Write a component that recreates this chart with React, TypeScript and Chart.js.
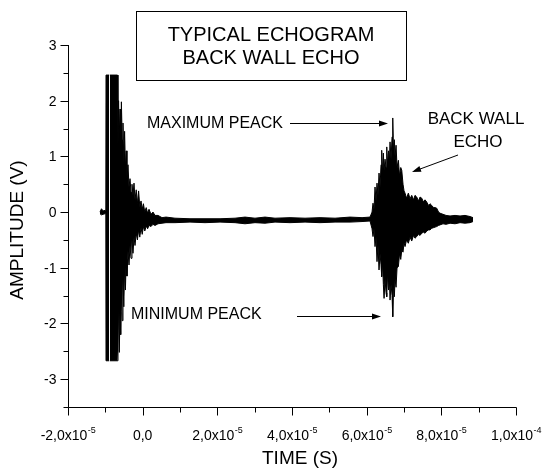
import React, { useEffect, useRef } from 'react';
import { Chart, registerables } from 'chart.js';

Chart.register(...registerables);

// Sample times (s) of the read envelope points (null marks a break in the trace)
const TIME_S = [
  -1.143e-5, -1.103e-5, -1.062e-5, -1.009e-5, -0.987e-5,
  -0.982e-5, -0.896e-5, -0.886e-5, -0.875e-5, -0.674e-5,
  -0.661e-5, -0.645e-5, -0.626e-5, -0.607e-5, -0.588e-5, -0.570e-5, -0.548e-5, -0.527e-5,
  -0.505e-5, -0.484e-5, -0.462e-5, -0.441e-5, -0.420e-5, -0.393e-5, -0.366e-5, -0.339e-5,
  -0.312e-5, -0.286e-5, -0.259e-5, -0.232e-5, -0.205e-5, -0.173e-5, -0.141e-5, -0.109e-5,
  -0.077e-5, -0.044e-5, -0.012e-5, 0.020e-5, 0.057e-5, 0.095e-5, 0.132e-5, 0.170e-5,
  0.223e-5, 0.277e-5, 0.331e-5, 0.411e-5, 0.518e-5, 0.625e-5,
  0.866e-5, 1.268e-5, 1.670e-5, 2.072e-5, 2.474e-5, 2.741e-5, 3.009e-5, 3.277e-5,
  3.545e-5, 3.947e-5, 4.349e-5, 4.751e-5, 5.153e-5, 5.554e-5, 5.876e-5, 6.090e-5,
  6.144e-5, 6.170e-5, 6.197e-5, 6.224e-5, 6.251e-5, 6.277e-5, 6.304e-5, 6.331e-5,
  6.358e-5, 6.385e-5, 6.403e-5, 6.425e-5, 6.447e-5, 6.466e-5, 6.492e-5, 6.519e-5,
  6.538e-5, 6.559e-5, 6.586e-5, 6.608e-5, 6.626e-5, 6.653e-5, 6.680e-5, 6.699e-5,
  6.720e-5, 6.742e-5, 6.760e-5, 6.787e-5, 6.814e-5, 6.849e-5, 6.881e-5, 6.913e-5,
  6.940e-5, 6.974e-5, 7.001e-5, 7.028e-5, 7.068e-5, 7.116e-5, 7.162e-5, 7.207e-5,
  7.255e-5, 7.295e-5, 7.341e-5, 7.389e-5, 7.429e-5, 7.475e-5, 7.523e-5, 7.563e-5,
  7.609e-5, 7.657e-5, 7.697e-5, 7.743e-5, 7.791e-5, 7.831e-5, 7.876e-5, 7.925e-5,
  7.965e-5, 8.045e-5, 8.126e-5, 8.233e-5, 8.367e-5, 8.501e-5, 8.635e-5, 8.769e-5, 8.849e-5,
];

// Upper extremes of the amplitude (V)
const UPPER_V = [
  0.0, 0.06, 0.02, 0.03, 0.03,
  2.46, 2.46, null, 2.46, 2.46,
  1.2, 2.0, 1.4, 1.85, 1.1, 1.98, 1.3, 1.6,
  0.9, 1.45, 0.8, 1.1, 0.6, 0.85, 0.45, 0.6,
  0.35, 0.5, 0.3, 0.52, 0.22, 0.4, 0.15, 0.38,
  0.1, 0.2, 0.05, 0.15, 0.0, 0.08, -0.02, 0.05,
  -0.04, 0.0, -0.06, -0.06, -0.1, -0.09,
  -0.11, -0.12, -0.12, -0.12, -0.11, -0.09, -0.11, -0.09,
  -0.11, -0.1, -0.11, -0.1, -0.11, -0.09, -0.1, -0.09,
  0.0, 0.16, 0.05, 0.45, 0.2, 0.52, 0.3, 0.7,
  0.45, 0.85, 1.11, 0.7, 1.06, 0.75, 0.95, 0.8,
  1.17, 0.85, 1.1, 0.9, 1.26, 0.95, 1.35, 1.69,
  1.1, 1.3, 1.0, 1.2, 0.8, 0.93, 0.65, 0.8,
  0.75, 0.5, 0.38, 0.34, 0.25, 0.34, 0.24, 0.3,
  0.22, 0.3, 0.27, 0.2, 0.27, 0.25, 0.18, 0.22,
  0.18, 0.12, 0.15, 0.12, 0.08, 0.08, 0.07, 0.0,
  -0.02, -0.04, -0.06, -0.07, -0.06, -0.07, -0.06, -0.08, -0.1,
];

// Lower extremes of the amplitude (V)
const LOWER_V = [
  -0.03, -0.05, -0.04, -0.03, -0.03,
  -2.67, -2.67, null, -2.67, -2.67,
  -2.5, -1.6, -2.52, -1.8, -2.2, -1.5, -1.95, -1.2,
  -1.7, -1.0, -1.4, -0.85, -1.15, -0.7, -0.95, -0.6,
  -0.83, -0.5, -0.74, -0.45, -0.6, -0.38, -0.5, -0.32,
  -0.45, -0.28, -0.4, -0.26, -0.34, -0.25, -0.3, -0.24,
  -0.26, -0.22, -0.24, -0.21, -0.2, -0.19,
  -0.19, -0.18, -0.19, -0.18, -0.19, -0.21, -0.19, -0.2,
  -0.18, -0.19, -0.18, -0.19, -0.18, -0.18, -0.17, -0.16,
  -0.3, -0.44, -0.3, -0.62, -0.45, -0.89, -0.6, -1.04,
  -0.75, -0.95, -1.16, -0.9, -1.3, -1.55, -1.2, -1.45,
  -1.52, -1.1, -1.4, -1.2, -1.58, -1.3, -1.5, -1.88,
  -1.3, -1.52, -1.2, -1.35, -1.0, -0.98, -0.75, -0.85,
  -0.68, -0.72, -0.55, -0.62, -0.5, -0.56, -0.45, -0.52,
  -0.42, -0.47, -0.44, -0.4, -0.42, -0.38, -0.36, -0.38,
  -0.34, -0.32, -0.32, -0.29, -0.28, -0.27, -0.26, -0.24,
  -0.23, -0.21, -0.22, -0.2, -0.21, -0.19, -0.2, -0.19, -0.17,
];

const X_TICKS = [-2e-5, 0, 2e-5, 4e-5, 6e-5, 8e-5, 1e-4];
const X_TICK_MANTISSA = ['-2,0x10', '0,0', '2,0x10', '4,0x10', '6,0x10', '8,0x10', '1,0x10'];
const X_TICK_EXP = ['-5', '', '-5', '-5', '-5', '-5', '-4'];
const X_MINOR = [-1e-5, 1e-5, 3e-5, 5e-5, 7e-5, 9e-5];
const Y_TICKS = [3, 2, 1, 0, -1, -2, -3];
const Y_MINOR = [2.5, 1.5, 0.5, -0.5, -1.5, -2.5, -3.5];

const X_TITLE = 'TIME (S)';
const Y_TITLE = 'AMPLITUDE (V)';
const TITLE_LINES = ['TYPICAL ECHOGRAM', 'BACK WALL ECHO'];
const MAX_LABEL = 'MAXIMUM PEACK';
const MIN_LABEL = 'MINIMUM PEACK';
const ECHO_LABEL = ['BACK WALL', 'ECHO'];

const FONT = '"Liberation Sans", Arial, sans-serif';

function arrow(ctx: CanvasRenderingContext2D, x1: number, y1: number, x2: number, y2: number) {
  const ang = Math.atan2(y2 - y1, x2 - x1);
  const len = 9;
  const hw = 3;
  ctx.beginPath();
  ctx.moveTo(x1, y1);
  ctx.lineTo(x2 - Math.cos(ang) * len * 0.8, y2 - Math.sin(ang) * len * 0.8);
  ctx.stroke();
  ctx.beginPath();
  ctx.moveTo(x2, y2);
  ctx.lineTo(x2 - Math.cos(ang) * len - Math.sin(ang) * hw, y2 - Math.sin(ang) * len + Math.cos(ang) * hw);
  ctx.lineTo(x2 - Math.cos(ang) * len + Math.sin(ang) * hw, y2 - Math.sin(ang) * len - Math.cos(ang) * hw);
  ctx.closePath();
  ctx.fill();
}

const decorPlugin = {
  id: 'decor',
  afterDraw(chart: any) {
    const ctx: CanvasRenderingContext2D = chart.ctx;
    const xs = chart.scales.x;
    const ys = chart.scales.y;
    const a = chart.chartArea;
    ctx.save();
    ctx.strokeStyle = '#000';
    ctx.fillStyle = '#000';
    ctx.lineWidth = 1;
    const L = Math.round(a.left) + 0.5;
    const B = Math.round(a.bottom) + 0.5;
    ctx.beginPath();
    ctx.moveTo(L, Math.round(a.top));
    ctx.lineTo(L, B);
    ctx.lineTo(Math.round(a.right) + 0.5, B);
    ctx.stroke();
    ctx.beginPath();
    Y_TICKS.forEach((v) => {
      const y = Math.round(ys.getPixelForValue(v)) + 0.5;
      ctx.moveTo(L - 8, y);
      ctx.lineTo(L, y);
    });
    Y_MINOR.forEach((v) => {
      const y = Math.round(ys.getPixelForValue(v)) + 0.5;
      ctx.moveTo(L - 5, y);
      ctx.lineTo(L, y);
    });
    X_TICKS.forEach((v) => {
      const x = Math.round(xs.getPixelForValue(v)) + 0.5;
      ctx.moveTo(x, B);
      ctx.lineTo(x, B + 8);
    });
    X_MINOR.forEach((v) => {
      const x = Math.round(xs.getPixelForValue(v)) + 0.5;
      ctx.moveTo(x, B);
      ctx.lineTo(x, B + 5);
    });
    ctx.stroke();

    ctx.font = `14px ${FONT}`;
    ctx.textAlign = 'right';
    ctx.textBaseline = 'middle';
    Y_TICKS.forEach((v) => {
      ctx.fillText(String(v), L - 12, ys.getPixelForValue(v) + 1);
    });
    X_TICKS.forEach((v, i) => {
      const x = xs.getPixelForValue(v);
      ctx.font = `14px ${FONT}`;
      const mw = ctx.measureText(X_TICK_MANTISSA[i]).width;
      ctx.font = `9px ${FONT}`;
      const ew = X_TICK_EXP[i] ? ctx.measureText(X_TICK_EXP[i]).width : 0;
      const start = x - (mw + ew) / 2;
      ctx.textAlign = 'left';
      ctx.textBaseline = 'alphabetic';
      ctx.font = `14px ${FONT}`;
      ctx.fillText(X_TICK_MANTISSA[i], start, 440);
      if (X_TICK_EXP[i]) {
        ctx.font = `9px ${FONT}`;
        ctx.fillText(X_TICK_EXP[i], start + mw + 0.5, 433);
      }
    });

    ctx.font = `19px ${FONT}`;
    ctx.textAlign = 'center';
    ctx.textBaseline = 'middle';
    ctx.fillText(X_TITLE, (a.left + a.right) / 2 + 8, 459);
    ctx.save();
    ctx.translate(18, (a.top + a.bottom) / 2 + 4);
    ctx.rotate(-Math.PI / 2);
    ctx.fillText(Y_TITLE, 0, 0);
    ctx.restore();

    ctx.strokeRect(136.5, 11.5, 270, 69);
    ctx.font = `20px ${FONT}`;
    ctx.fillText(TITLE_LINES[0], 271, 35);
    ctx.fillText(TITLE_LINES[1], 271, 58);

    ctx.font = `16px ${FONT}`;
    ctx.textAlign = 'left';
    ctx.fillText(MAX_LABEL, 147, 124);
    ctx.fillText(MIN_LABEL, 131, 315);
    ctx.font = `17px ${FONT}`;
    ctx.textAlign = 'center';
    ctx.fillText(ECHO_LABEL[0], 476, 119);
    ctx.fillText(ECHO_LABEL[1], 478, 142);
    ctx.lineWidth = 1;
    arrow(ctx, 290, 123.5, 388, 123.5);
    arrow(ctx, 297, 316.5, 381, 316.5);
    arrow(ctx, 458, 155, 412, 172);
    ctx.restore();
  },
};

// split the read trace into continuous pieces at the null breaks
function pieces() {
  const out: { up: any[]; lo: any[] }[] = [];
  let cur = { up: [] as any[], lo: [] as any[] };
  TIME_S.forEach((t, i) => {
    if (UPPER_V[i] === null || LOWER_V[i] === null) {
      if (cur.up.length) out.push(cur);
      cur = { up: [], lo: [] };
      return;
    }
    cur.up.push({ x: t, y: UPPER_V[i] });
    cur.lo.push({ x: t, y: LOWER_V[i] });
  });
  if (cur.up.length) out.push(cur);
  return out;
}

export default function App() {
  const ref = useRef<HTMLCanvasElement | null>(null);
  useEffect(() => {
    document.body.style.margin = '0';
    if (!ref.current) return;
    const datasets: any[] = [];
    pieces().forEach((p, k) => {
      datasets.push({
        label: 'signal upper ' + k,
        data: p.up,
        borderColor: '#000',
        backgroundColor: '#000',
        borderWidth: 1,
        pointRadius: 0,
        fill: '+1',
        tension: 0,
      });
      datasets.push({
        label: 'signal lower ' + k,
        data: p.lo,
        borderColor: '#000',
        backgroundColor: '#000',
        borderWidth: 1,
        pointRadius: 0,
        fill: false,
        tension: 0,
      });
    });
    const chart = new Chart(ref.current, {
      type: 'line',
      data: { datasets },
      options: {
        responsive: false,
        animation: false,
        layout: { padding: { left: 68, top: 45, right: 28, bottom: 64 } },
        plugins: { legend: { display: false }, tooltip: { enabled: false } },
        scales: {
          x: { type: 'linear', min: -2e-5, max: 1e-4, display: false },
          y: { type: 'linear', min: -3.5, max: 3, display: false },
        },
      },
      plugins: [decorPlugin],
    });
    return () => chart.destroy();
  }, []);
  return (
    <div style={{ width: 544, height: 471, background: '#fff' }}>
      <canvas ref={ref} width={544} height={471} />
    </div>
  );
}
